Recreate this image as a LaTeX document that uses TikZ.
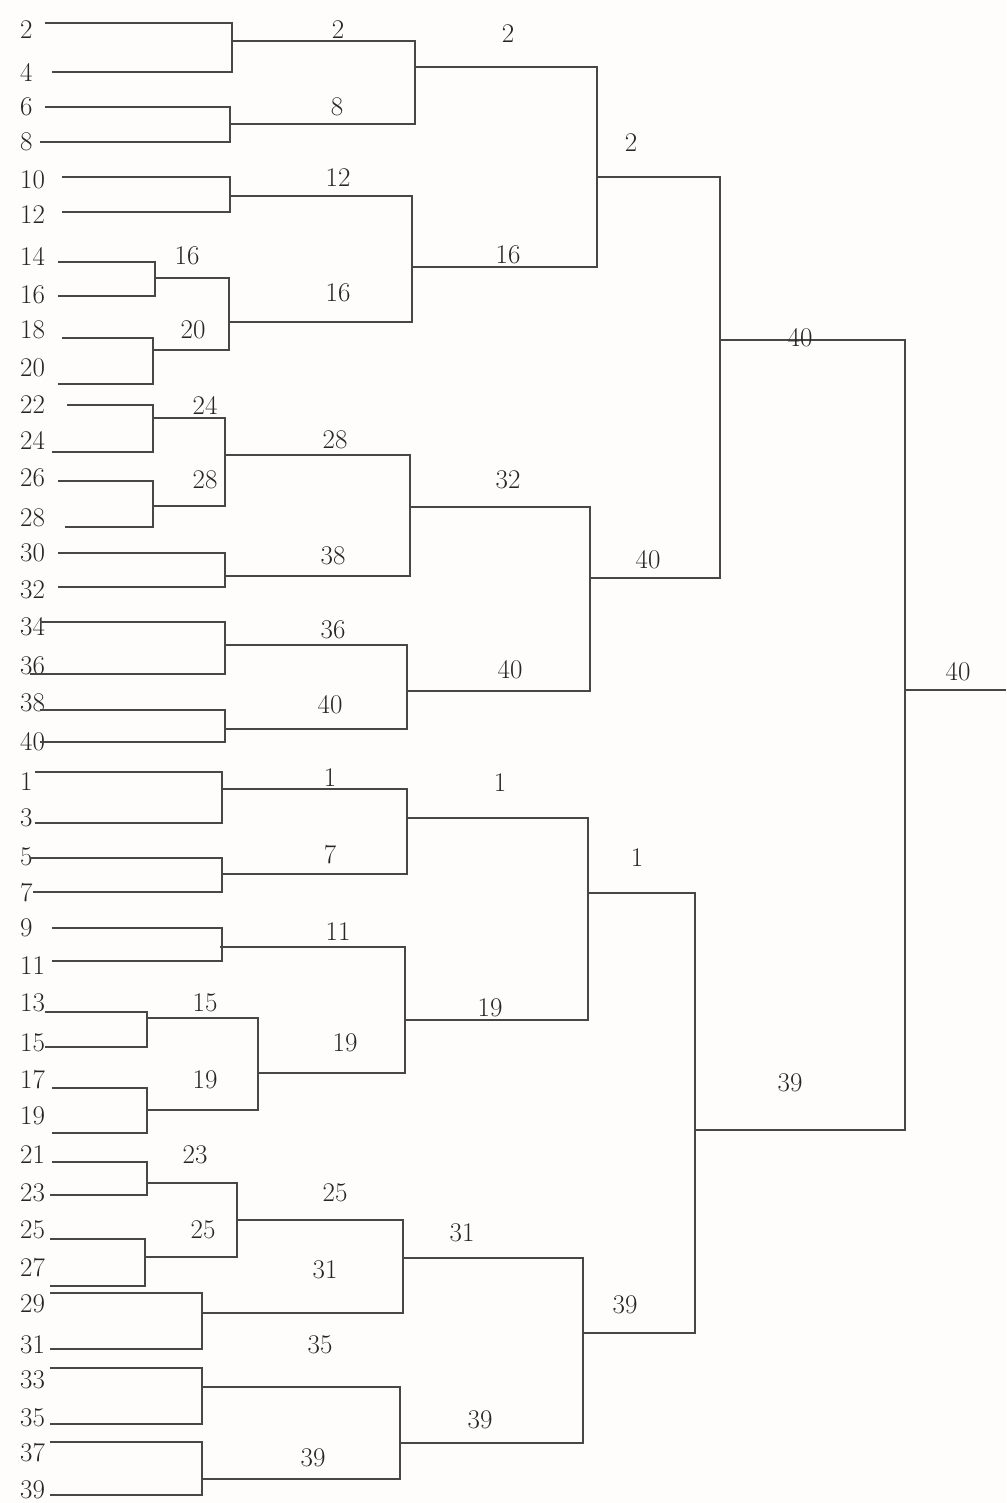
\documentclass[tikz,border=0pt]{standalone}
\begin{document}
\begin{tikzpicture}[x=1pt,y=-1pt,
  br/.style={draw=black!72, line width=1.7pt},
  pl/.style={anchor=west, inner sep=0pt, text=black!85, font=\fontsize{27}{29}\selectfont},
  rl/.style={inner sep=0pt, text=black!85, font=\fontsize{27}{29}\selectfont}]
\fill[white!99!red] (0,0) rectangle (1006,1503);
\useasboundingbox (0,0) rectangle (1006,1503);
% player labels
\foreach \n/\y in {2/30,4/72,6/107,8/142,10/180,12/215,14/256,16/295,18/330,20/368,
  22/405,24/440,26/478,28/518,30/553,32/590,34/627,36/666,38/703,40/742,
  1/782,3/818,5/857,7/893,9/928,11/966,13/1003,15/1043,17/1080,19/1116,
  21/1155,23/1193,25/1230,27/1268,29/1304,31/1345,33/1380,35/1418,37/1453,39/1490}
  \node[pl] (p\n) at (20,\y) {\n};
% top half
\draw[br] (45,23) -- (232,23) -- (232,72) -- (52,72);
\draw[br] (232,41) -- (415,41) -- (415,124) -- (230,124);
\draw[br] (45,107) -- (230,107) -- (230,142) -- (40,142);
\draw[br] (415,67) -- (597,67) -- (597,267) -- (412,267);
\draw[br] (62,177) -- (230,177) -- (230,212) -- (62,212);
\draw[br] (230,196) -- (412,196) -- (412,322) -- (229,322);
\draw[br] (58,262) -- (155,262) -- (155,296) -- (58,296);
\draw[br] (155,278) -- (229,278) -- (229,350) -- (153,350);
\draw[br] (62,338) -- (153,338) -- (153,384) -- (58,384);
\draw[br] (67,405) -- (153,405) -- (153,452) -- (52,452);
\draw[br] (153,418) -- (225,418) -- (225,506) -- (153,506);
\draw[br] (58,481) -- (153,481) -- (153,527) -- (65,527);
\draw[br] (58,553) -- (225,553) -- (225,587) -- (58,587);
\draw[br] (225,455) -- (410,455) -- (410,576) -- (225,576);
\draw[br] (40,622) -- (225,622) -- (225,674) -- (30,674);
\draw[br] (225,645) -- (407,645) -- (407,729) -- (225,729);
\draw[br] (40,710) -- (225,710) -- (225,742) -- (40,742);
\draw[br] (410,507) -- (590,507) -- (590,691) -- (407,691);
\draw[br] (597,177) -- (720,177) -- (720,578) -- (590,578);
\draw[br] (720,340) -- (905,340) -- (905,1130) -- (695,1130);
\draw[br] (905,690) -- (1006,690);
% bottom half
\draw[br] (35,772) -- (222,772) -- (222,823) -- (35,823);
\draw[br] (222,789) -- (407,789) -- (407,874) -- (222,874);
\draw[br] (30,858) -- (222,858) -- (222,892) -- (33,892);
\draw[br] (407,818) -- (588,818) -- (588,1020) -- (405,1020);
\draw[br] (52,928) -- (222,928) -- (222,961) -- (52,961);
\draw[br] (220,947) -- (405,947) -- (405,1073) -- (258,1073);
\draw[br] (45,1012) -- (147,1012) -- (147,1047) -- (45,1047);
\draw[br] (147,1018) -- (258,1018) -- (258,1110) -- (147,1110);
\draw[br] (52,1088) -- (147,1088) -- (147,1133) -- (52,1133);
\draw[br] (52,1162) -- (147,1162) -- (147,1195) -- (50,1195);
\draw[br] (147,1183) -- (237,1183) -- (237,1257) -- (145,1257);
\draw[br] (50,1239) -- (145,1239) -- (145,1286) -- (50,1286);
\draw[br] (50,1293) -- (202,1293) -- (202,1349) -- (50,1349);
\draw[br] (237,1220) -- (403,1220) -- (403,1313) -- (202,1313);
\draw[br] (50,1368) -- (202,1368) -- (202,1424) -- (50,1424);
\draw[br] (202,1387) -- (400,1387) -- (400,1479) -- (202,1479);
\draw[br] (50,1442) -- (202,1442) -- (202,1495) -- (50,1495);
\draw[br] (403,1258) -- (583,1258) -- (583,1443) -- (400,1443);
\draw[br] (588,893) -- (695,893) -- (695,1333) -- (583,1333);
% round labels top
\node[rl] (a1) at (338,30) {2};
\node[rl] (a2) at (337,107) {8};
\node[rl] (a3) at (338,178) {12};
\node[rl] (a4) at (187,256) {16};
\node[rl] (a5) at (338,293) {16};
\node[rl] (a6) at (193,330) {20};
\node[rl] (a7) at (205,405) {24};
\node[rl] (a8) at (205,480) {28};
\node[rl] (a9) at (335,440) {28};
\node[rl] (a10) at (333,556) {38};
\node[rl] (a11) at (333,630) {36};
\node[rl] (a12) at (330,705) {40};
\node[rl] (a13) at (508,34) {2};
\node[rl] (a14) at (508,255) {16};
\node[rl] (a15) at (508,480) {32};
\node[rl] (a16) at (510,670) {40};
\node[rl] (a17) at (631,143) {2};
\node[rl] (a18) at (648,560) {40};
\node[rl] (a19) at (800,338) {40};
\node[rl] (a20) at (958,672) {40};
% round labels bottom
\node[rl] (b1) at (330,778) {1};
\node[rl] (b2) at (330,855) {7};
\node[rl] (b3) at (338,932) {11};
\node[rl] (b4) at (205,1003) {15};
\node[rl] (b5) at (205,1080) {19};
\node[rl] (b6) at (345,1043) {19};
\node[rl] (b7) at (500,783) {1};
\node[rl] (b8) at (490,1008) {19};
\node[rl] (b9) at (637,858) {1};
\node[rl] (b10) at (790,1083) {39};
\node[rl] (b11) at (195,1155) {23};
\node[rl] (b12) at (203,1230) {25};
\node[rl] (b13) at (335,1193) {25};
\node[rl] (b14) at (325,1270) {31};
\node[rl] (b15) at (320,1345) {35};
\node[rl] (b16) at (313,1458) {39};
\node[rl] (b17) at (462,1233) {31};
\node[rl] (b18) at (480,1420) {39};
\node[rl] (b19) at (625,1305) {39};
\end{tikzpicture}
\end{document}
